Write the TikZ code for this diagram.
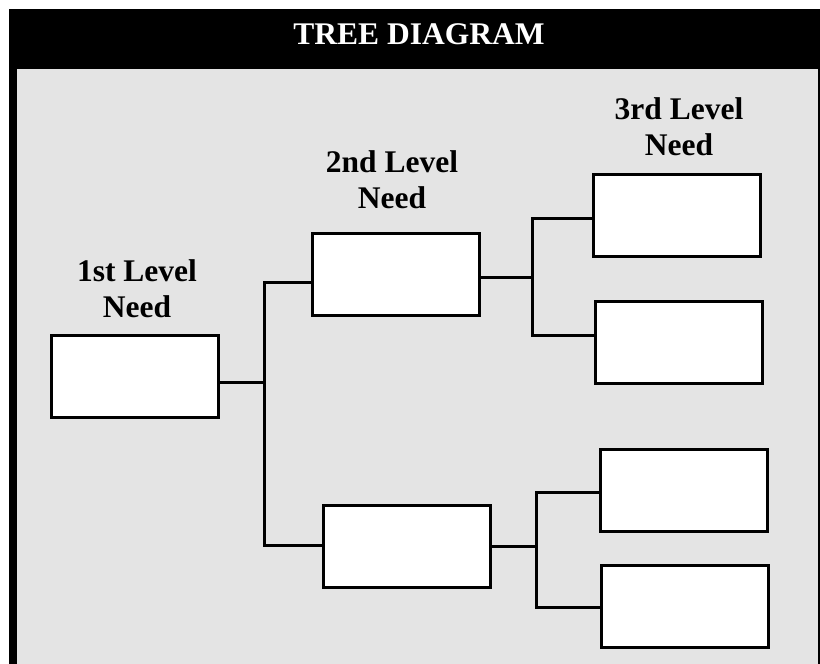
\documentclass[tikz,border=0pt]{standalone}
\usepackage{fontspec}
\setmainfont{Liberation Serif}
\definecolor{panelgrey}{RGB}{228,228,228}
\begin{document}
\begin{tikzpicture}[x=1pt,y=-1pt,
  needbox/.style={draw=black,line width=3pt,fill=white,minimum width=167pt,minimum height=82pt,inner sep=0pt},
  link/.style={line width=3pt,line cap=rect},
  levellabel/.style={font=\fontsize{31.5}{36}\selectfont\bfseries,align=center,inner sep=0pt,anchor=base}]
  \useasboundingbox (0,0) rectangle (820,664);
  % frame and header
  \fill[black] (9,9) rectangle (820,664);
  \fill[panelgrey] (17,69) rectangle (818,664);
  \node[font=\fontsize{31.5}{36}\selectfont\bfseries,text=white,anchor=base,inner sep=0pt] (title) at (419,44) {TREE DIAGRAM};
  % level labels (base anchor sits on the last line)
  \node[levellabel] (l1) at (137,317) {1st Level\\Need};
  \node[levellabel] (l2) at (392,208) {2nd Level\\Need};
  \node[levellabel] (l3) at (679,155) {3rd Level\\Need};
  % boxes
  \node[needbox] (b1)  at (135,376.5) {};
  \node[needbox] (b2a) at (396,274.5) {};
  \node[needbox] (b2b) at (407,546.5) {};
  \node[needbox] (b3a) at (677,215.5) {};
  \node[needbox] (b3b) at (679,342.5) {};
  \node[needbox] (b3c) at (684,490.5) {};
  \node[needbox] (b3d) at (685,606.5) {};
  % junction points
  \coordinate (j1)  at (264,382);
  \coordinate (jt1) at (264,282);
  \coordinate (jb1) at (264,545);
  \coordinate (j2)  at (532,277);
  \coordinate (jt2) at (532,218);
  \coordinate (jb2) at (532,335);
  \coordinate (j3)  at (536,546);
  \coordinate (jt3) at (536,492);
  \coordinate (jb3) at (536,607);
  % connectors
  \draw[link] (b1.east |- j1) -- (j1);
  \draw[link] (b2a.west |- jt1) -- (jt1) -- (jb1) -- (b2b.west |- jb1);
  \draw[link] (b2a.east |- j2) -- (j2);
  \draw[link] (b3a.west |- jt2) -- (jt2) -- (jb2) -- (b3b.west |- jb2);
  \draw[link] (b2b.east |- j3) -- (j3);
  \draw[link] (b3c.west |- jt3) -- (jt3) -- (jb3) -- (b3d.west |- jb3);
\end{tikzpicture}
\end{document}
